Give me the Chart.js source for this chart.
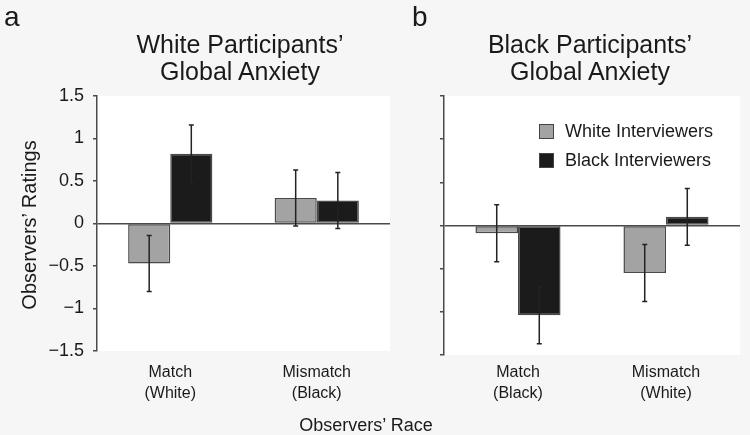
<!DOCTYPE html>
<html>
<head>
<meta charset="utf-8">
<script src="https://cdn.jsdelivr.net/npm/chart.js@4"></script>
<style>
  body { margin: 0; background: #f6f6f6; font-family: "Liberation Sans", Arial, sans-serif; color: #1a1a1a; }
  #wrap { position: relative; width: 750px; height: 435px; overflow: hidden; }
  canvas { position: absolute; top: 0; }
  .txt { position: absolute; white-space: nowrap; }
  .title { font-size: 25px; line-height: 27px; text-align: center; width: 300px; top: 31px; }
  .letter { font-size: 28px; line-height: 28px; top: 3px; }
  .legend { position: absolute; left: 539px; top: 124px; width: 200px; font-size: 18px; }
  .legend div { position: relative; height: 29px; }
  .legend span.box { position: absolute; left: 0; top: 0; width: 13px; height: 13px; border: 1px solid #444; }
  .legend span.lab { position: absolute; left: 26px; top: -3px; line-height: 20px; white-space: nowrap; }
</style>
</head>
<body>
<div id="wrap">
  <canvas id="chartA" width="395" height="435" style="left:0"></canvas>
  <canvas id="chartB" width="350" height="435" style="left:400px"></canvas>

  <div class="txt letter" style="left:4px">a</div>
  <div class="txt letter" style="left:412px">b</div>
  <div class="txt title" style="left:90px">White Participants’<br>Global Anxiety</div>
  <div class="txt title" style="left:440px">Black Participants’<br>Global Anxiety</div>
  <div class="txt" style="left:29px; top:225px; font-size:20px; transform: translate(-50%, -50%) rotate(-90deg);">Observers’ Ratings</div>
  <div class="txt" style="left:366px; top:415px; font-size:18px; line-height:20px; transform: translateX(-50%);">Observers’ Race</div>
  <div class="legend" id="legend"></div>
</div>

<script>
// Categories for each panel
const categoriesA = [['Match', '(White)'], ['Mismatch', '(Black)']];
const categoriesB = [['Match', '(Black)'], ['Mismatch', '(White)']];

// Series labels
const seriesNames = ['White Interviewers', 'Black Interviewers'];

// Panel a values (White participants)
const whiteA = [-0.47, 0.30];
const blackA = [0.82, 0.27];
const whiteErrA = [0.33, 0.33];
const blackErrA = [0.34, 0.33];

// Panel b values (Black participants)
const whiteB = [-0.09, -0.55];
const blackB = [-1.04, 0.10];
const whiteErrB = [0.33, 0.33];
const blackErrB = [0.33, 0.33];

// Y axis ticks
const yMin = -1.5;
const yMax = 1.5;
const yStep = 0.5;

const grayFill = '#a3a3a3';
const blackFill = '#1b1b1b';
const lineColor = '#4a4a4a';
const errColor = '#222222';

// White background inside the plot area
const plotBackground = {
    id: 'plotBackground',
    beforeDraw(chart) {
        const a = chart.chartArea;
        const ctx = chart.ctx;
        ctx.save();
        ctx.fillStyle = '#ffffff';
        ctx.fillRect(a.left, a.top, a.right - a.left, a.bottom - a.top);
        ctx.restore();
    }
};

// Draw error bars from each dataset's errors array
const errorBars = {
    id: 'errorBars',
    afterDatasetsDraw(chart) {
        const ctx = chart.ctx;
        const y = chart.scales.y;
        ctx.save();
        ctx.strokeStyle = errColor;
        ctx.lineWidth = 1.5;
        chart.data.datasets.forEach((ds, i) => {
            chart.getDatasetMeta(i).data.forEach((bar, j) => {
                const v = ds.data[j];
                const e = ds.errors[j];
                const top = y.getPixelForValue(v + e);
                const bottom = y.getPixelForValue(v - e);
                ctx.beginPath();
                ctx.moveTo(bar.x, top);
                ctx.lineTo(bar.x, bottom);
                ctx.moveTo(bar.x - 2.5, top);
                ctx.lineTo(bar.x + 2.5, top);
                ctx.moveTo(bar.x - 2.5, bottom);
                ctx.lineTo(bar.x + 2.5, bottom);
                ctx.stroke();
            });
        });
        ctx.restore();
    }
};

function makeChart(id, categories, white, black, whiteErr, blackErr, opts) {
    const ctx = document.getElementById(id).getContext('2d');
    return new Chart(ctx, {
        type: 'bar',
        data: {
            labels: categories,
            datasets: [{
                label: seriesNames[0],
                data: white,
                errors: whiteErr,
                backgroundColor: grayFill,
                borderColor: lineColor,
                borderWidth: 1.5,
                borderSkipped: false
            }, {
                label: seriesNames[1],
                data: black,
                errors: blackErr,
                backgroundColor: blackFill,
                borderColor: lineColor,
                borderWidth: 1.5,
                borderSkipped: false
            }]
        },
        options: {
            responsive: false,
            animation: false,
            layout: { padding: { top: 96, right: opts.padRight, left: 0, bottom: 0 } },
            datasets: { bar: { categoryPercentage: 0.575, barPercentage: 1 } },
            plugins: {
                legend: { display: false },
                tooltip: { enabled: false }
            },
            scales: {
                x: {
                    grid: { display: false, drawTicks: false },
                    border: { display: false },
                    ticks: {
                        color: '#1a1a1a',
                        padding: opts.xPad,
                        font: { family: 'Liberation Sans', size: 16, lineHeight: 1.3 },
                        maxRotation: 0
                    },
                    afterFit: s => { s.height = opts.xHeight; }
                },
                y: {
                    min: yMin,
                    max: yMax,
                    grid: {
                        color: c => (c.tick && c.tick.value === 0) ? lineColor : 'transparent',
                        lineWidth: 1.5,
                        tickColor: lineColor,
                        tickLength: 4
                    },
                    border: { display: true, color: lineColor, width: 1.5 },
                    ticks: {
                        stepSize: yStep,
                        display: opts.showLabels,
                        color: '#1a1a1a',
                        padding: 9,
                        font: { family: 'Liberation Sans', size: 18 },
                        callback: v => v < 0 ? '\u2212' + Math.abs(v) : String(v)
                    },
                    afterFit: s => { s.width = opts.yWidth; }
                }
            }
        },
        plugins: [plotBackground, errorBars]
    });
}

makeChart('chartA', categoriesA, whiteA, blackA, whiteErrA, blackErrA,
    { padRight: 5, xHeight: 84, xPad: 11, yWidth: 97, showLabels: true });
const chartB = makeChart('chartB', categoriesB, whiteB, blackB, whiteErrB, blackErrB,
    { padRight: 10, xHeight: 80, xPad: 7, yWidth: 44, showLabels: false });

// Legend built from the datasets of panel b
const legend = document.getElementById('legend');
chartB.data.datasets.forEach(ds => {
    const row = document.createElement('div');
    const box = document.createElement('span');
    box.className = 'box';
    box.style.background = ds.backgroundColor;
    const lab = document.createElement('span');
    lab.className = 'lab';
    lab.textContent = ds.label;
    row.appendChild(box);
    row.appendChild(lab);
    legend.appendChild(row);
});
</script>
</body>
</html>
